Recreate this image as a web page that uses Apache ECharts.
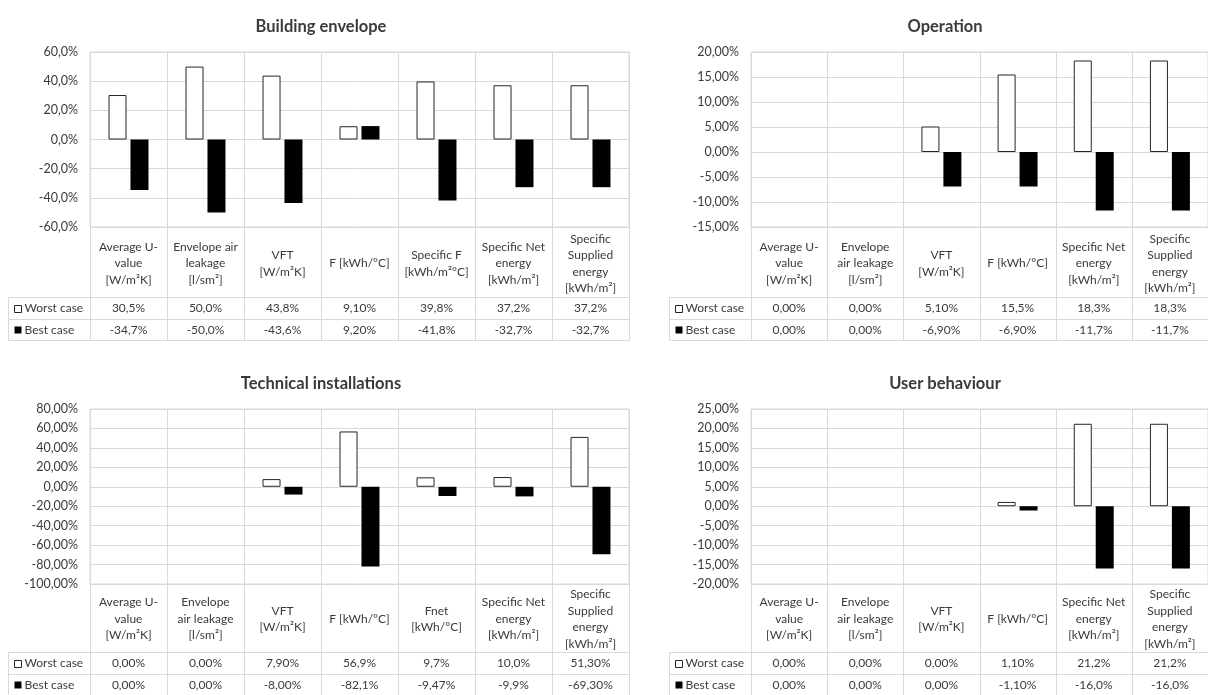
<!DOCTYPE html>
<html>
<head>
<meta charset="utf-8">
<script src="https://cdn.jsdelivr.net/npm/echarts@6/dist/echarts.min.js"></script>
<style>
  html, body { margin: 0; padding: 0; background: #fff; }
  #chart { width: 1208px; height: 695px; }
</style>
</head>
<body>
<div id="chart"></div>
<script>
// ---- data ----
var envelopeCats = ['Average U-\nvalue\n[W/m²K]', 'Envelope air\nleakage\n[l/sm²]', 'VFT\n[W/m²K]', 'F [kWh/°C]',
                    'Specific F\n[kWh/m²°C]', 'Specific Net\nenergy\n[kWh/m²]', 'Specific\nSupplied\nenergy\n[kWh/m²]'];
var envelopeWorst = [30.5, 50.0, 43.8, 9.10, 39.8, 37.2, 37.2];
var envelopeBest  = [-34.7, -50.0, -43.6, 9.20, -41.8, -32.7, -32.7];
var envelopeWorstDec = [1, 1, 1, 2, 1, 1, 1];
var envelopeBestDec  = [1, 1, 1, 2, 1, 1, 1];

var operationCats = ['Average U-\nvalue\n[W/m²K]', 'Envelope\nair leakage\n[l/sm²]', 'VFT\n[W/m²K]', 'F [kWh/°C]',
                     'Specific Net\nenergy\n[kWh/m²]', 'Specific\nSupplied\nenergy\n[kWh/m²]'];
var operationWorst = [0.00, 0.00, 5.10, 15.5, 18.3, 18.3];
var operationBest  = [0.00, 0.00, -6.90, -6.90, -11.7, -11.7];
var operationWorstDec = [2, 2, 2, 1, 1, 1];
var operationBestDec  = [2, 2, 2, 2, 1, 1];

var technicalCats = ['Average U-\nvalue\n[W/m²K]', 'Envelope\nair leakage\n[l/sm²]', 'VFT\n[W/m²K]', 'F [kWh/°C]',
                     'Fnet\n[kWh/°C]', 'Specific Net\nenergy\n[kWh/m²]', 'Specific\nSupplied\nenergy\n[kWh/m²]'];
var technicalWorst = [0.00, 0.00, 7.90, 56.9, 9.7, 10.0, 51.30];
var technicalBest  = [0.00, 0.00, -8.00, -82.1, -9.47, -9.9, -69.30];
var technicalWorstDec = [2, 2, 2, 1, 1, 1, 2];
var technicalBestDec  = [2, 2, 2, 1, 2, 1, 2];

var userCats = ['Average U-\nvalue\n[W/m²K]', 'Envelope\nair leakage\n[l/sm²]', 'VFT\n[W/m²K]', 'F [kWh/°C]',
                'Specific Net\nenergy\n[kWh/m²]', 'Specific\nSupplied\nenergy\n[kWh/m²]'];
var userWorst = [0.00, 0.00, 0.00, 1.10, 21.2, 21.2];
var userBest  = [0.00, 0.00, 0.00, -1.10, -16.0, -16.0];
var userWorstDec = [2, 2, 2, 2, 1, 1];
var userBestDec  = [2, 2, 2, 2, 1, 1];

var seriesNames = ['Worst case', 'Best case'];

// ---- layout ----
var FONT = 'Lato, "Open Sans", sans-serif';
var TXT = '#3a3a3a';
var GRIDC = '#d9d9d9';
var PLOT_H = 175;
var rowEdges = [0, 70, 91.5, 113];   // header row, worst row, best row (table units = px below plot)
var LEGEND_W = 82;

var panels = [
  { title: 'Building envelope', cats: envelopeCats, worst: envelopeWorst, best: envelopeBest,
    worstDec: envelopeWorstDec, bestDec: envelopeBestDec, min: -60, max: 60, step: 20, axisDec: 1,
    left: 90, width: 539, top: 52, titleX: 316, titleY: 13 },
  { title: 'Operation', cats: operationCats, worst: operationWorst, best: operationBest,
    worstDec: operationWorstDec, bestDec: operationBestDec, min: -15, max: 20, step: 5, axisDec: 2,
    left: 751, width: 465, top: 52, titleX: 940, titleY: 13 },
  { title: 'Technical installations', cats: technicalCats, worst: technicalWorst, best: technicalBest,
    worstDec: technicalWorstDec, bestDec: technicalBestDec, min: -100, max: 80, step: 20, axisDec: 2,
    left: 90, width: 539, top: 409, titleX: 316, titleY: 370 },
  { title: 'User behaviour', cats: userCats, worst: userWorst, best: userBest,
    worstDec: userWorstDec, bestDec: userBestDec, min: -20, max: 25, step: 5, axisDec: 2,
    left: 751, width: 465, top: 409, titleX: 940, titleY: 370 }
];

function pct(v, d) {
  return v.toFixed(d).replace('.', ',') + '%';
}

function barData(vals) {
  return vals.map(function (v) {
    return v === 0 ? { value: 0, itemStyle: { borderWidth: 0 } } : v;
  });
}

// data table under each plot, plus the column dividers through the plot area
function tableRenderer(pn) {
  return function (params, api) {
    var i = api.value(0);
    var bw = api.size([1, 0])[0];
    var cx = api.coord([i, 0])[0];
    var x0 = Math.round(cx - bw / 2) + 0.5;
    var x1 = Math.round(cx + bw / 2) + 0.5;
    var yTop = Math.round(api.coord([i, -PLOT_H])[1]) + 0.5;
    var ys = rowEdges.map(function (r) { return Math.round(api.coord([i, r])[1]) + 0.5; });
    var ls = { stroke: GRIDC, lineWidth: 1 };
    var font = '12px ' + FONT;
    var kids = [];
    var xl = i === 0 ? x0 - LEGEND_W : x0;

    kids.push({ type: 'line', shape: { x1: x0, y1: yTop, x2: x0, y2: ys[3] }, style: ls });
    kids.push({ type: 'line', shape: { x1: x1, y1: yTop, x2: x1, y2: ys[3] }, style: ls });
    for (var k = 1; k < 4; k++) {
      kids.push({ type: 'line', shape: { x1: xl, y1: ys[k], x2: x1, y2: ys[k] }, style: ls });
    }
    kids.push({ type: 'text', style: { text: pn.cats[i], x: cx, y: (ys[0] + ys[1]) / 2 + 1,
      align: 'center', verticalAlign: 'middle', font: font, lineHeight: 16.5, fill: TXT } });
    kids.push({ type: 'text', style: { text: pct(pn.worst[i], pn.worstDec[i]), x: cx, y: (ys[1] + ys[2]) / 2,
      align: 'center', verticalAlign: 'middle', font: font, fill: TXT } });
    kids.push({ type: 'text', style: { text: pct(pn.best[i], pn.bestDec[i]), x: cx, y: (ys[2] + ys[3]) / 2,
      align: 'center', verticalAlign: 'middle', font: font, fill: TXT } });

    if (i === 0) {
      var lx = x0 - LEGEND_W;
      kids.push({ type: 'line', shape: { x1: lx, y1: ys[1], x2: lx, y2: ys[3] }, style: ls });
      [1, 2].forEach(function (r) {
        var my = (ys[r] + ys[r + 1]) / 2;
        kids.push({ type: 'rect', shape: { x: lx + 6, y: Math.round(my - 4) + 0.5, width: 7, height: 7 },
          style: r === 1 ? { fill: '#fff', stroke: '#262626', lineWidth: 1 } : { fill: '#000' } });
        kids.push({ type: 'text', style: { text: seriesNames[r - 1], x: lx + 16, y: my,
          align: 'left', verticalAlign: 'middle', font: font, fill: TXT } });
      });
    }
    return { type: 'group', children: kids };
  };
}

var option = {
  animation: false,
  backgroundColor: '#fff',
  textStyle: { fontFamily: FONT },
  title: [], grid: [], xAxis: [], yAxis: [], series: []
};

panels.forEach(function (pn, p) {
  var g = p * 2;
  option.title.push({ text: pn.title, left: pn.titleX, top: pn.titleY, textAlign: 'center',
    textStyle: { fontFamily: FONT, fontSize: 16.5, fontWeight: 'bold', color: TXT } });

  option.grid.push({ left: pn.left, width: pn.width, top: pn.top, height: PLOT_H,
    show: true, borderColor: GRIDC, borderWidth: 1, backgroundColor: 'transparent' });
  // overlay grid: plot + table, y in px units (negative = plot area)
  option.grid.push({ left: pn.left, width: pn.width, top: pn.top, height: PLOT_H + rowEdges[3] });

  option.xAxis.push({ type: 'category', gridIndex: g, data: pn.cats, boundaryGap: true,
    axisLine: { show: false }, axisTick: { show: false }, axisLabel: { show: false },
    splitLine: { show: false } });
  option.xAxis.push({ type: 'category', gridIndex: g + 1, data: pn.cats, show: false });

  option.yAxis.push({ type: 'value', gridIndex: g, min: pn.min, max: pn.max, interval: pn.step,
    axisLine: { show: false }, axisTick: { show: false },
    axisLabel: { margin: 12, fontSize: 12.5, color: TXT, fontFamily: FONT,
      formatter: function (v) { return pct(v, pn.axisDec); } },
    splitLine: { show: true, lineStyle: { color: GRIDC, width: 1 } } });
  option.yAxis.push({ type: 'value', gridIndex: g + 1, min: -PLOT_H, max: rowEdges[3], inverse: true, show: false });

  option.series.push({ type: 'custom', xAxisIndex: g + 1, yAxisIndex: g + 1, silent: true, z: 1,
    data: pn.cats.map(function (c, i) { return [i]; }), renderItem: tableRenderer(pn) });
  option.series.push({ name: seriesNames[0], type: 'bar', xAxisIndex: g, yAxisIndex: g, z: 2,
    data: barData(pn.worst), barWidth: 18, barGap: '22%',
    itemStyle: { color: '#fff', borderColor: '#262626', borderWidth: 1 } });
  option.series.push({ name: seriesNames[1], type: 'bar', xAxisIndex: g, yAxisIndex: g, z: 2,
    data: barData(pn.best), barWidth: 18, barGap: '22%',
    itemStyle: { color: '#000', borderColor: '#000', borderWidth: 0 } });
});

var chart = echarts.init(document.getElementById('chart'));
chart.setOption(option);
window.addEventListener('resize', function () { chart.resize(); });
</script>
</body>
</html>
